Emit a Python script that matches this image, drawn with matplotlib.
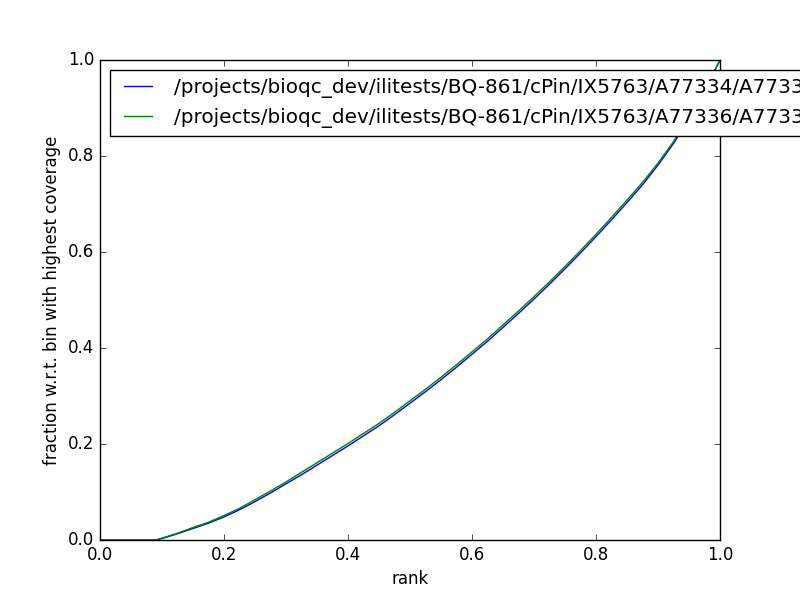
import matplotlib
matplotlib.use("Agg")
import matplotlib.pyplot as plt

plt.style.use("classic")

rank = [0.0, 0.05, 0.09, 0.1, 0.125, 0.15, 0.175, 0.2, 0.225, 0.25, 0.275, 0.3,
        0.325, 0.35, 0.375, 0.4, 0.425, 0.45, 0.475, 0.5, 0.525, 0.55, 0.575, 0.6,
        0.625, 0.65, 0.675, 0.7, 0.725, 0.75, 0.775, 0.8, 0.825, 0.85, 0.875, 0.9,
        0.925, 0.95, 0.975, 1.0]
blue_vals = [0.0, 0.0, 0.0, 0.003, 0.013, 0.024, 0.035, 0.048, 0.063, 0.080, 0.098, 0.117,
             0.136, 0.156, 0.176, 0.196, 0.217, 0.238, 0.261, 0.285, 0.309, 0.334, 0.360, 0.387,
             0.414, 0.443, 0.472, 0.502, 0.533, 0.565, 0.598, 0.632, 0.667, 0.703, 0.740, 0.781,
             0.826, 0.877, 0.935, 1.0]
green_vals = [0.0, 0.0, 0.0, 0.004, 0.014, 0.026, 0.037, 0.051, 0.066, 0.084, 0.102, 0.121,
              0.141, 0.161, 0.181, 0.201, 0.222, 0.243, 0.266, 0.290, 0.314, 0.339, 0.365, 0.392,
              0.419, 0.448, 0.477, 0.507, 0.538, 0.570, 0.603, 0.637, 0.672, 0.708, 0.745, 0.785,
              0.830, 0.880, 0.937, 1.0]
labels = ["/projects/bioqc_dev/ilitests/BQ-861/cPin/IX5763/A77334/A77334.bam",
          "/projects/bioqc_dev/ilitests/BQ-861/cPin/IX5763/A77336/A77336.bam"]

fig = plt.figure(figsize=(8, 6), dpi=100)
ax = fig.add_subplot(111)
ax.plot(rank, blue_vals, color="b", label=labels[0])
ax.plot(rank, green_vals, color="g", label=labels[1])
ax.set_xlim(0, 1)
ax.set_ylim(0, 1)
ax.set_xlabel("rank")
ax.set_ylabel("fraction w.r.t. bin with highest coverage")
ax.legend(loc="upper left")
fig.savefig("out.png", dpi=100)
